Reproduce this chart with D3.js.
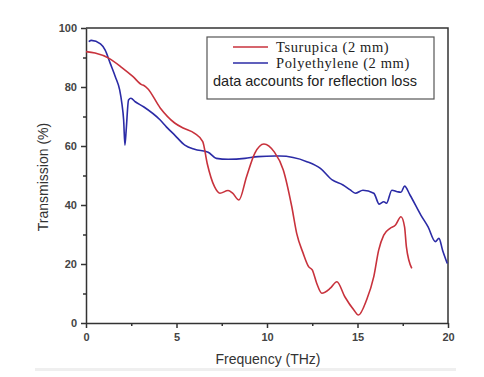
<!DOCTYPE html>
<html>
<head>
<meta charset="utf-8">
<script src="https://cdn.jsdelivr.net/npm/d3@7"></script>
<style>
  body { margin: 0; background: #fff; }
  .axis text { font-family: "Liberation Sans", Arial, sans-serif; font-size: 11px; font-weight: bold; fill: #444; }
  .axis path, .axis line { stroke: #333; stroke-width: 1.5; }
</style>
</head>
<body>
<svg id="chart" width="484" height="377"></svg>
<script>
// Tsurupica (2 mm) transmission
let redFreq = [0, 0.5, 1.25, 2.0, 2.6, 3.07, 3.2, 3.4, 4.1, 4.9, 5.4, 6.0, 6.45, 6.7, 7.1, 7.4, 7.85, 8.1, 8.45, 8.87, 9.33, 9.83, 10.4, 10.9, 11.37, 11.64, 12.0, 12.3, 12.5, 12.75, 13.03, 13.5, 13.86, 14.3, 14.8, 15.05, 15.5, 15.9, 16.17, 16.45, 16.8, 17.1, 17.4, 17.6, 17.7, 18.0];
let redVals = [92, 91.5, 89.8, 86.5, 83.5, 80.8, 80.5, 79.5, 72.9, 67.8, 66, 64.3, 61.5, 54, 46.2, 44, 44.9, 44, 41.7, 49.6, 57.6, 60.7, 58, 51.9, 39.4, 30.4, 23.6, 19.1, 18, 13.4, 10.1, 11.8, 14, 8.9, 4.4, 2.7, 7.8, 15.7, 24.7, 29.8, 32.1, 33.2, 36, 32.6, 25.9, 18.5];

// Polyethylene (2 mm) transmission
let blueFreq = [0.15, 0.3, 0.8, 1.06, 1.34, 1.62, 1.86, 1.98, 2.08, 2.15, 2.22, 2.35, 2.48, 2.72, 3.18, 4.1, 4.44, 4.9, 5.46, 6.0, 6.75, 7.2, 7.85, 8.78, 9.5, 10.44, 10.7, 12.2, 12.95, 13.6, 14.2, 14.6, 14.88, 15.3, 15.9, 16.2, 16.45, 16.6, 16.9, 17.2, 17.4, 17.6, 17.9, 18.5, 18.9, 19.3, 19.5, 19.7, 19.96];
let blueVals = [95.4, 95.8, 94.6, 92.5, 88, 83.5, 79, 74.5, 68.8, 60.3, 65.4, 75.6, 76.2, 75, 73.3, 68.8, 66.5, 63.7, 60.3, 58.9, 57.9, 55.8, 55.5, 55.8, 56.4, 56.6, 56.6, 54.7, 52.4, 48.5, 46.8, 45.1, 44, 45, 44, 40.3, 41.1, 40.6, 45, 44.5, 44.3, 46.4, 43.4, 36.6, 32.6, 27.6, 28.7, 24.7, 20.2];

let xTicks = [0, 5, 10, 15, 20];
let yTicks = [0, 20, 40, 60, 80, 100];
let legendNames = ["Tsurupica (2 mm)", "Polyethylene (2 mm)"];
let legendNote = "data accounts for reflection loss";

let colors = ["#c8323c", "#2b2ba6"];

let margin = { top: 28, right: 36, bottom: 54, left: 86 };
let width = 484 - margin.left - margin.right;
let height = 377 - margin.top - margin.bottom;

let svg = d3.select('#chart');

// faint strip at the bottom of the original figure
svg.append('rect')
  .attr('x', 35).attr('y', 368).attr('width', 421).attr('height', 3)
  .attr('fill', '#efefef');

let g = svg.append('g')
  .attr('transform', 'translate(' + margin.left + ',' + margin.top + ')');

let x = d3.scaleLinear().domain([0, 20]).range([0, width]);
let y = d3.scaleLinear().domain([0, 100]).range([height, 0]);

// minor ticks
g.append('g').attr('class', 'axis')
  .attr('transform', 'translate(0,' + height + ')')
  .call(d3.axisBottom(x).tickValues([2.5, 7.5, 12.5, 17.5]).tickSize(3).tickFormat(''))
  .select('.domain').remove();
g.append('g').attr('class', 'axis')
  .call(d3.axisLeft(y).tickValues([10, 30, 50, 70, 90]).tickSize(3).tickFormat(''))
  .select('.domain').remove();

// main axes
g.append('g').attr('class', 'axis x')
  .attr('transform', 'translate(0,' + height + ')')
  .call(d3.axisBottom(x).tickValues(xTicks).tickSize(5).tickSizeOuter(0).tickPadding(5));

g.append('g').attr('class', 'axis y')
  .call(d3.axisLeft(y).tickValues(yTicks).tickSize(5).tickSizeOuter(0).tickPadding(4));

// frame top and right
g.append('path')
  .attr('d', 'M0,0H' + width + 'V' + height)
  .attr('fill', 'none')
  .attr('stroke', '#333')
  .attr('stroke-width', 1.5);

let line = d3.line()
  .x(d => x(d[0]))
  .y(d => y(d[1]))
  .curve(d3.curveMonotoneX);

g.append('path')
  .datum(blueFreq.map((f, i) => [f, blueVals[i]]))
  .attr('d', line)
  .attr('fill', 'none')
  .attr('stroke', colors[1])
  .attr('stroke-width', 1.6);

g.append('path')
  .datum(redFreq.map((f, i) => [f, redVals[i]]))
  .attr('d', line)
  .attr('fill', 'none')
  .attr('stroke', colors[0])
  .attr('stroke-width', 1.6);

// axis titles
svg.append('text')
  .attr('x', 268).attr('y', 364)
  .attr('text-anchor', 'middle')
  .attr('font-family', 'Liberation Sans, Arial, sans-serif')
  .attr('font-size', 14)
  .attr('fill', '#333')
  .text('Frequency (THz)');

svg.append('text')
  .attr('transform', 'translate(48,177) rotate(-90)')
  .attr('text-anchor', 'middle')
  .attr('font-family', 'Liberation Sans, Arial, sans-serif')
  .attr('font-size', 14)
  .attr('fill', '#333')
  .text('Transmission (%)');

// legend
let legend = svg.append('g');
legend.append('rect')
  .attr('x', 207).attr('y', 37).attr('width', 227).attr('height', 62)
  .attr('fill', '#fff')
  .attr('stroke', '#555')
  .attr('stroke-width', 1.2);

legendNames.forEach((name, i) => {
  legend.append('line')
    .attr('x1', 233).attr('x2', 268)
    .attr('y1', 47 + i * 16).attr('y2', 47 + i * 16)
    .attr('stroke', colors[i])
    .attr('stroke-width', 1.5);
  legend.append('text')
    .attr('x', 276).attr('y', 52 + i * 16)
    .attr('font-family', 'Liberation Serif, Times New Roman, serif')
    .attr('font-size', 14.5)
    .attr('letter-spacing', 0.6)
    .attr('fill', '#222')
    .text(name);
});

legend.append('text')
  .attr('x', 213).attr('y', 86)
  .attr('font-family', 'Liberation Sans, Arial, sans-serif')
  .attr('font-size', 14.5)
  .attr('fill', '#222')
  .text(legendNote);
</script>
</body>
</html>
